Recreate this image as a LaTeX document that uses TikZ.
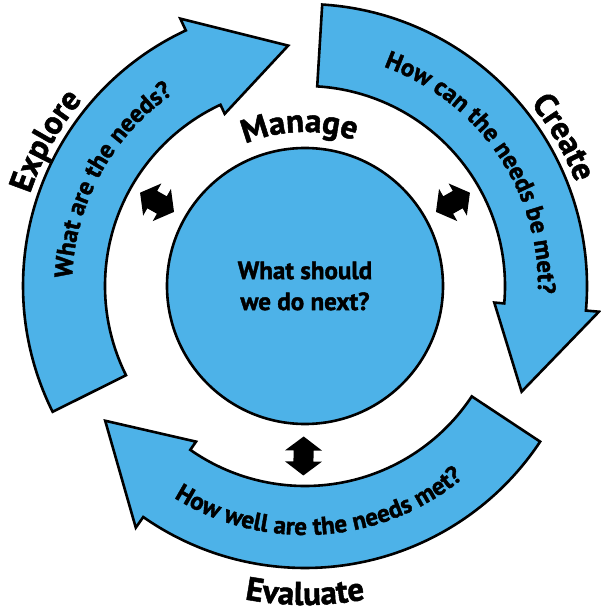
\documentclass[tikz,border=0pt]{standalone}
\usepackage{fontspec}
\setmainfont{PT Sans}[BoldFeatures={FakeBold=1.5}]
\usetikzlibrary{decorations.text}
\definecolor{cycblue}{RGB}{77,178,232}
\begin{document}
\begin{tikzpicture}[x=1pt,y=1pt,
  ringarrow/.style={fill=cycblue, draw=black, line width=2.6pt, line join=miter},
  hubstyle/.style={circle, fill=cycblue, draw=black, line width=2.6pt, minimum size=276pt, inner sep=0pt, align=center, font=\bfseries\fontsize{25}{31}\selectfont},
  dblarrow/.style={fill=black},
  arctext/.style={decorate, decoration={text along path, text align=center, text={#1}}}
]
\useasboundingbox (-305,-329) rectangle (295,286);

% three ring arrows
\foreach \r in {0,-120,-240}{
  \draw[ringarrow, rotate=\r] (206.5:282) arc[start angle=206.5, end angle=115, radius=282]
    -- (115:295) -- (94:241) -- (115:190) -- (115:200)
    arc[start angle=115, end angle=206.5, radius=200] -- cycle;
}

% hub
\node[hubstyle] (hub) at (0,0) {What should\\we do next?};

% double arrows
\foreach \a in {150.5, 29.5, -90.5}{
  \fill[dblarrow, rotate=\a, shift={(170,0)}] (19.5,0) -- (5.5,18.5) -- (5.5,10) -- (-5.5,10) -- (-5.5,18.5)
    -- (-19.5,0) -- (-5.5,-18.5) -- (-5.5,-10) -- (5.5,-10) -- (5.5,-18.5) -- cycle;
}

% texts inside arrows
\path[arctext={|\bfseries\fontsize{25}{28}\selectfont|What are the needs?}]
  (201.25:233) arc[start angle=201.25, end angle=101.25, radius=233];
\path[arctext={|\bfseries\fontsize{25}{28}\selectfont|How can the needs be met?}]
  (84.2:233) arc[start angle=84.2, end angle=-15.8, radius=233];
\path[arctext={|\bfseries\fontsize{25}{28}\selectfont|How well are the needs met?}]
  (-136.1:249) arc[start angle=-136.1, end angle=-36.1, radius=249];

% labels
\path[arctext={|\bfseries\fontsize{33}{36}\selectfont|Explore}]
  (190.8:290) arc[start angle=190.8, end angle=110.8, radius=290];
\path[arctext={|\bfseries\fontsize{33}{36}\selectfont|Create}]
  (69.9:290) arc[start angle=69.9, end angle=-10.1, radius=290];
\path[arctext={|\bfseries\fontsize{33}{36}\selectfont|Evaluate}]
  (-130:319) arc[start angle=-130, end angle=-50, radius=319];
\path[arctext={|\bfseries\fontsize{33}{36}\selectfont|Manage}]
  (132:154) arc[start angle=132, end angle=52, radius=154];
\end{tikzpicture}
\end{document}
